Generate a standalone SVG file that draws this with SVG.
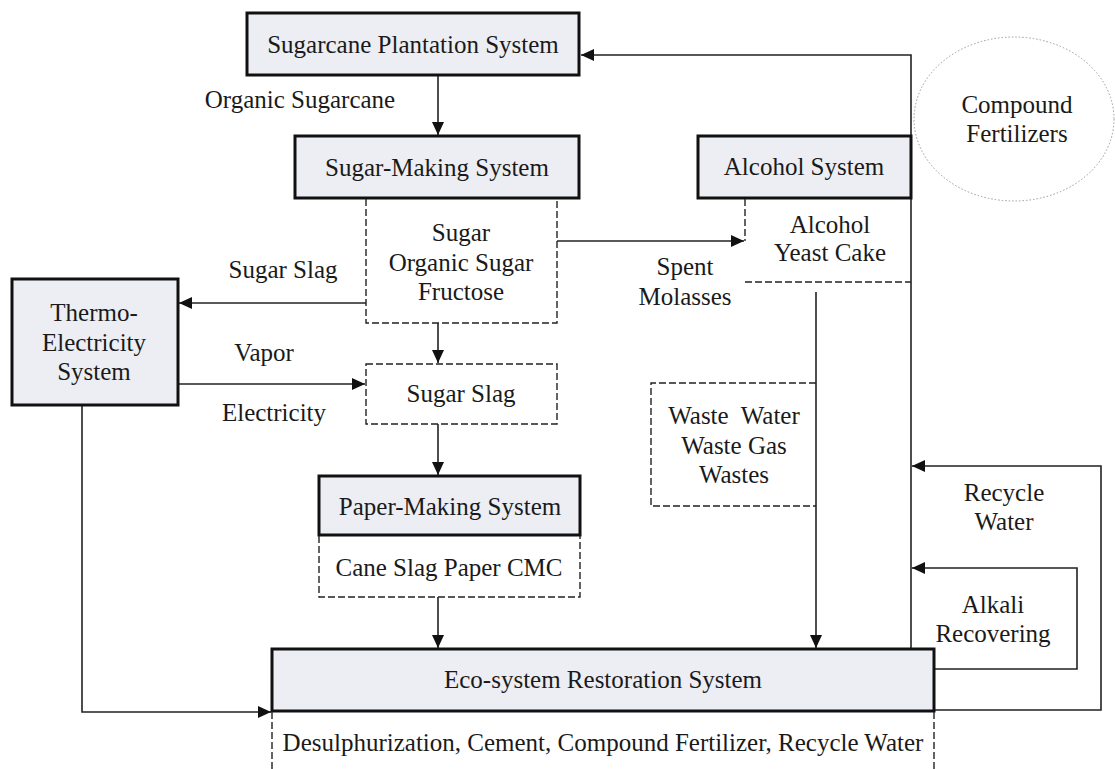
<svg xmlns="http://www.w3.org/2000/svg" width="1115" height="769" viewBox="0 0 1115 769">
<style>
text{font-family:"Liberation Serif","Times New Roman",serif;font-size:25px;fill:#1a1a1a;text-anchor:middle}
.sys{fill:#eceef4;stroke:#111;stroke-width:3}
.dash{fill:none;stroke:#222;stroke-width:1.4;stroke-dasharray:7,3}
.ln{fill:none;stroke:#222;stroke-width:1.6}
</style>
<defs>
<marker id="ah" markerUnits="userSpaceOnUse" markerWidth="14" markerHeight="12" refX="13" refY="6" orient="auto">
<path d="M0,0 L13,6 L0,12 z" fill="#111"/>
</marker>
</defs>
<rect width="1115" height="769" fill="#fff"/>

<g id="connectors">
<path class="ln" d="M438,75 V135" marker-end="url(#ah)"/>
<path class="ln" d="M438,323 V363" marker-end="url(#ah)"/>
<path class="ln" d="M438,424 V475" marker-end="url(#ah)"/>
<path class="ln" d="M438,597 V648" marker-end="url(#ah)"/>
<path class="ln" d="M366,303 H179" marker-end="url(#ah)"/>
<path class="ln" d="M178,384 H365" marker-end="url(#ah)"/>
<path class="ln" d="M557,241 H744" marker-end="url(#ah)"/>
<path class="ln" d="M82,405 V712 H271" marker-end="url(#ah)"/>
<path class="ln" d="M816,292 V648" marker-end="url(#ah)"/>
<path class="ln" d="M911,649 V55 H581" marker-end="url(#ah)"/>
<path class="ln" d="M934,710 H1101 V466 H912" marker-end="url(#ah)"/>
<path class="ln" d="M934,669 H1077 V568 H912" marker-end="url(#ah)"/>
</g>

<g id="compound-fertilizers">
<ellipse cx="1014" cy="119" rx="100" ry="82" fill="none" stroke="#999" stroke-width="1" stroke-dasharray="1.5,2"/>
<text x="1017" y="113">Compound</text>
<text x="1017" y="142">Fertilizers</text>
</g>

<g id="plantation">
<rect class="sys" x="247" y="13" width="332" height="62"/>
<text x="413" y="53">Sugarcane Plantation System</text>
</g>
<text x="300" y="108">Organic Sugarcane</text>

<g id="sugar-making">
<rect class="sys" x="295" y="136" width="284" height="62"/>
<text x="437" y="176">Sugar-Making System</text>
</g>

<g id="sugar-products">
<path class="dash" d="M366,199 V323 H557 V199"/>
<text x="461" y="241">Sugar</text>
<text x="461" y="271">Organic Sugar</text>
<text x="461" y="300">Fructose</text>
</g>

<g id="alcohol">
<rect class="sys" x="698" y="136" width="213" height="62"/>
<text x="804" y="175">Alcohol System</text>
</g>
<g id="alcohol-products">
<path class="dash" d="M745,199 V241"/>
<path class="dash" d="M745,282 H911"/>
<text x="830" y="233">Alcohol</text>
<text x="830" y="261">Yeast Cake</text>
</g>
<text x="685" y="275">Spent</text>
<text x="685" y="305">Molasses</text>

<text x="283" y="278">Sugar Slag</text>

<g id="thermo">
<rect class="sys" x="12" y="279" width="166" height="126"/>
<text x="94" y="321">Thermo-</text>
<text x="94" y="351">Electricity</text>
<text x="94" y="380">System</text>
</g>
<text x="264" y="361">Vapor</text>
<text x="274" y="421">Electricity</text>

<g id="sugar-slag">
<rect class="dash" x="366" y="364" width="191" height="60"/>
<text x="461" y="402">Sugar Slag</text>
</g>

<g id="paper">
<rect class="sys" x="319" y="476" width="261" height="59"/>
<text x="450" y="515">Paper-Making System</text>
</g>
<g id="paper-products">
<path class="dash" d="M319,536 V597 H580 V536"/>
<text x="449" y="576">Cane Slag Paper CMC</text>
</g>

<g id="wastes">
<path class="dash" d="M816,383 H651 V506 H816"/>
<text x="734" y="424" style="white-space:pre">Waste  Water</text>
<text x="734" y="454">Waste Gas</text>
<text x="734" y="483">Wastes</text>
</g>

<text x="1004" y="501">Recycle</text>
<text x="1004" y="530">Water</text>
<text x="993" y="613">Alkali</text>
<text x="993" y="642">Recovering</text>

<g id="eco">
<rect class="sys" x="272" y="649" width="662" height="62"/>
<text x="603" y="688">Eco-system Restoration System</text>
</g>
<g id="eco-products">
<path class="dash" d="M272,712 V769"/>
<path class="dash" d="M934,712 V769"/>
<text x="603" y="751">Desulphurization, Cement, Compound Fertilizer, Recycle Water</text>
</g>
</svg>
